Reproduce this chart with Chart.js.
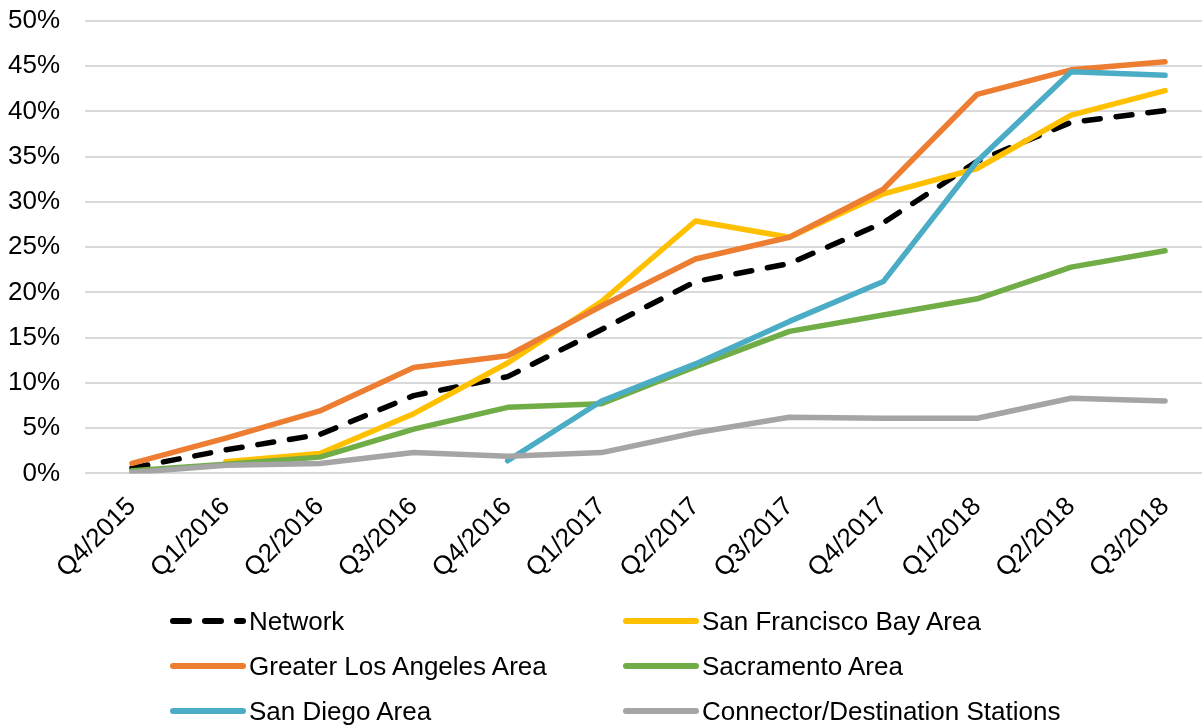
<!DOCTYPE html>
<html lang="en">
<head>
    <meta charset="UTF-8">
    <title>Share by Region</title>
    <script src="https://cdn.jsdelivr.net/npm/chart.js"></script>
    <style>
        html, body { margin: 0; padding: 0; background: #fff; overflow: hidden; }
        #wrap { position: relative; width: 1202px; height: 726px; overflow: hidden; }
        /* shifted left: Chart.js keeps room for the hanging first x label, Excel doesn't */
        #chartBox { position: absolute; left: -25px; top: 0; width: 1251px; height: 612px; }
        #legend { position: absolute; left: 0; top: 0; width: 1202px; height: 726px; pointer-events: none; }
        .item { position: absolute; display: flex; align-items: center; height: 30px;
                font-family: "Liberation Sans", Arial, sans-serif; font-size: 26px; color: #000; white-space: nowrap; }
        .item svg { margin-right: 3px; }
    </style>
</head>
<body>
<div id="wrap">
    <div id="chartBox"><canvas id="shareChart"></canvas></div>
    <div id="legend"></div>
</div>
<script>
    // quarters on the x axis
    const quarters = ['Q4/2015', 'Q1/2016', 'Q2/2016', 'Q3/2016', 'Q4/2016', 'Q1/2017',
                      'Q2/2017', 'Q3/2017', 'Q4/2017', 'Q1/2018', 'Q2/2018', 'Q3/2018'];

    // values in percent
    const network     = [0.6, 2.6, 4.3, 8.6, 10.7, 15.9, 21.2, 23.2, 27.7, 34.5, 38.8, 40.1];
    const sfBay       = [null, 1.3, 2.2, 6.6, 12.2, 19.0, 27.9, 26.1, 30.9, 33.7, 39.6, 42.3];
    const losAngeles  = [1.1, 3.9, 6.9, 11.7, 13.0, 18.5, 23.7, 26.1, 31.4, 41.9, 44.6, 45.5];
    const sacramento  = [0.3, 1.0, 1.8, 4.9, 7.3, 7.7, 11.8, 15.7, 17.5, 19.3, 22.8, 24.6];
    const sanDiego    = [null, null, null, null, 1.4, 8.0, 12.1, 16.8, 21.2, 34.5, 44.4, 44.0];
    const connector   = [0.1, 0.9, 1.1, 2.3, 1.9, 2.3, 4.5, 6.2, 6.1, 6.1, 8.3, 8.0];

    const yTicks = [0, 5, 10, 15, 20, 25, 30, 35, 40, 45, 50];

    const FONT = '"Liberation Sans", Arial, sans-serif';

    function series(label, data, color, order, dash) {
        return {
            label: label,
            data: data,
            borderColor: color,
            backgroundColor: color,
            borderWidth: 5.5,
            borderDash: dash || [],
            borderCapStyle: 'round',
            borderJoinStyle: 'round',
            pointRadius: 0,
            tension: 0,
            spanGaps: false,
            order: order
        };
    }

    // Excel draws later series on top, so higher order = drawn first
    const datasets = [
        series('Network', network, '#000000', 6, [16, 16]),
        series('San Francisco Bay Area', sfBay, '#FFC000', 5),
        series('Greater Los Angeles Area', losAngeles, '#ED7D31', 4),
        series('Sacramento Area', sacramento, '#70AD47', 3),
        series('San Diego Area', sanDiego, '#4BACC6', 2),
        series('Connector/Destination Stations', connector, '#A5A5A5', 1)
    ];

    const ctx = document.getElementById('shareChart').getContext('2d');
    const chart = new Chart(ctx, {
        type: 'line',
        data: { labels: quarters, datasets: datasets },
        options: {
            responsive: true,
            maintainAspectRatio: false,
            animation: false,
            layout: { padding: { left: 8, top: 21, right: 14, bottom: 10 } },
            plugins: { legend: { display: false }, tooltip: { enabled: false } },
            scales: {
                x: {
                    offset: true,
                    grid: { display: false, drawTicks: false },
                    border: { display: false },
                    ticks: {
                        autoSkip: false,
                        maxRotation: 45,
                        minRotation: 45,
                        padding: 18,
                        color: '#000',
                        font: { family: FONT, size: 26 }
                    }
                },
                y: {
                    min: 0,
                    max: 50,
                    afterBuildTicks: axis => { axis.ticks = yTicks.map(v => ({ value: v })); },
                    afterFit: axis => { axis.paddingTop = 0; axis.paddingBottom = 0; },
                    grid: { color: '#D9D9D9', lineWidth: 2, drawTicks: false },
                    border: { display: false },
                    ticks: {
                        padding: 25,
                        color: '#000',
                        font: { family: FONT, size: 26 },
                        callback: v => v + '%'
                    }
                }
            }
        }
    });

    // two-column legend under the chart, built from the datasets
    const legendPos = [[170, 606], [623, 606], [170, 651], [623, 651], [170, 696], [623, 696]];
    const legendBox = document.getElementById('legend');
    datasets.forEach((ds, i) => {
        const el = document.createElement('div');
        el.className = 'item';
        el.style.left = legendPos[i][0] + 'px';
        el.style.top = legendPos[i][1] + 'px';
        const dashAttr = ds.borderDash.length ? ' stroke-dasharray="' + ds.borderDash.join(' ') + '"' : '';
        el.innerHTML = '<svg width="76" height="12"><line x1="3" y1="6" x2="73" y2="6" stroke="' + ds.borderColor +
            '" stroke-width="6" stroke-linecap="round"' + dashAttr + '/></svg><span>' + ds.label + '</span>';
        legendBox.appendChild(el);
    });
</script>
</body>
</html>
